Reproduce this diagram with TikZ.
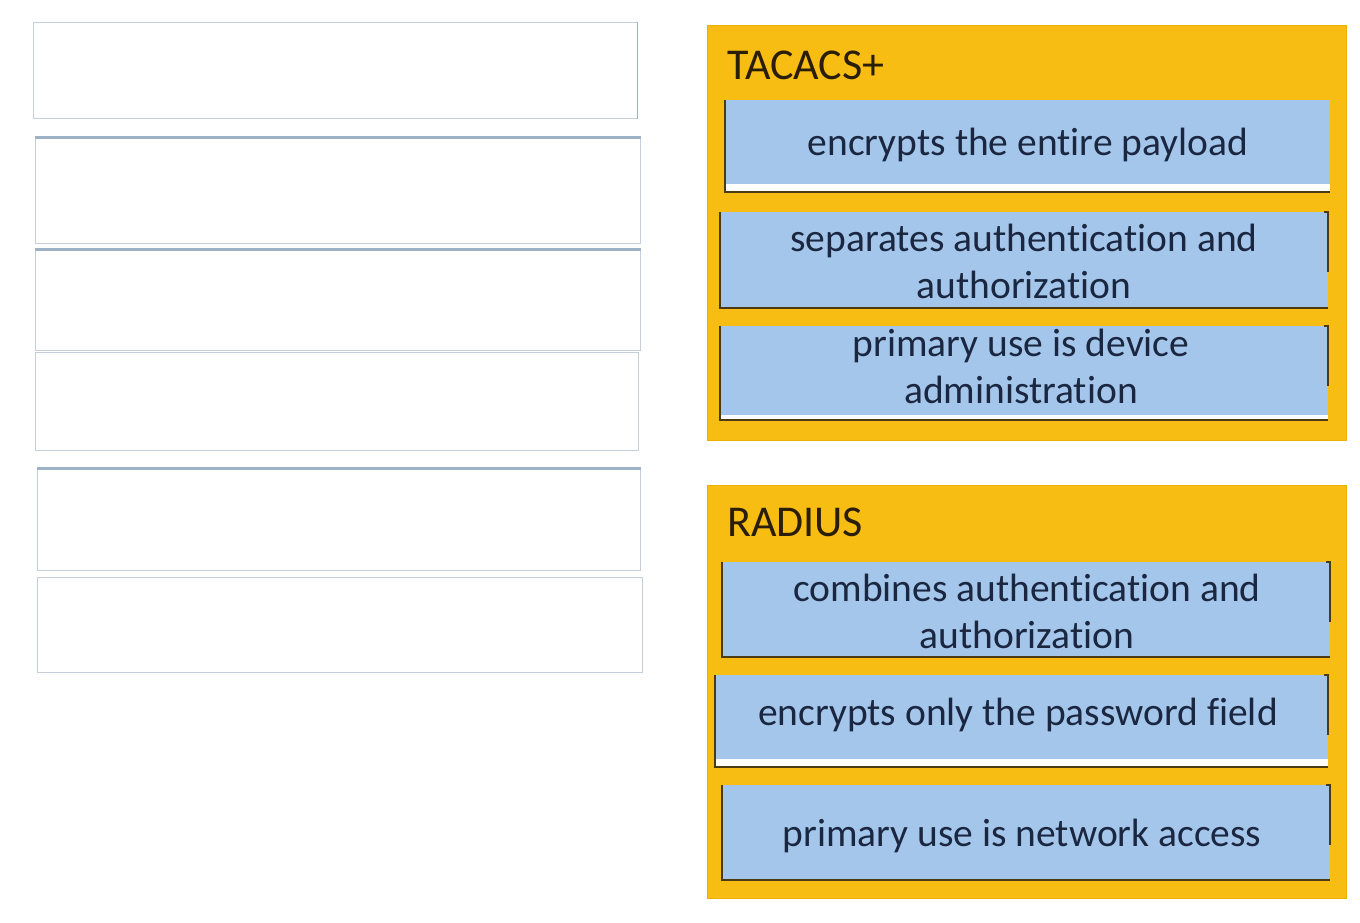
\documentclass[tikz,border=0pt]{standalone}
\usepackage{fontspec}
\setmainfont[RawFeature={-liga;-clig;-calt;-dlig}]{Carlito}
\definecolor{gold}{HTML}{F8BD12}
\definecolor{goldedge}{HTML}{EDB000}
\definecolor{itemblue}{HTML}{A4C6EA}
\definecolor{ink}{HTML}{1B2740}
\definecolor{titleink}{HTML}{2A1E08}
\definecolor{edge}{HTML}{4B3A12}
\definecolor{slotline}{HTML}{C5CFDA}
\definecolor{slottop}{HTML}{9DB2C6}
\tikzset{
  slot/.style={draw=slotline, line width=1pt, fill=white, inner sep=0pt},
  slottopline/.style={draw=slottop, line width=3.5pt},
  group/.style={fill=gold, draw=goldedge, line width=1pt, inner sep=0pt},
  grouptitle/.style={text=titleink, inner sep=0pt, font=\fontsize{44}{50}\selectfont},
  item/.style={fill=itemblue, inner sep=0pt},
  itemtext/.style={inner sep=0pt, align=center, text=ink,
    font=\fontsize{39.5}{47}\selectfont},
  edgeline/.style={draw=edge, line width=2.2pt},
  strip/.style={fill=white}
}
\begin{document}
\begin{tikzpicture}[x=1pt,y=-1pt]
\fill[white] (0,0) rectangle (1360,922);
\useasboundingbox (0,0) rectangle (1360,922);

% left answer slots
\node[slot, minimum width=604pt, minimum height=96pt]  (S1) at (335,70) {};
\node[slot, minimum width=605pt, minimum height=105pt] (S2) at (337.5,190.5) {};
\node[slot, minimum width=605pt, minimum height=100pt] (S3) at (337.5,300) {};
\node[slot, minimum width=603pt, minimum height=98pt]  (S4) at (336.5,401) {};
\node[slot, minimum width=603pt, minimum height=101pt] (S5) at (338.5,519.5) {};
\node[slot, minimum width=605pt, minimum height=95pt]  (S6) at (339.5,624.5) {};
\draw[slottopline] (S2.north west) -- (S2.north east);
\draw[slottopline] (S3.north west) -- (S3.north east);
\draw[slottopline] (S5.north west) -- (S5.north east);
\draw[draw=slottop, line width=1.5pt] (S1.north east) -- (S1.south east);

% groups
\node[group, minimum width=639pt, minimum height=415pt] (T) at (1026.5,232.5) {};
\node[group, minimum width=639pt, minimum height=413pt] (R) at (1026.5,691.5) {};
\node[grouptitle, anchor=base west] (Tt) at (727,79) {TACACS+};
\node[grouptitle, anchor=base west] (Rt) at (727,536) {RADIUS};

% TACACS+ items
\node[item, minimum width=605pt, minimum height=92pt] (T1) at (1027.5,146) {};
\node[item, minimum width=608pt, minimum height=96pt] (T2) at (1024,260) {};
\node[item, minimum width=608pt, minimum height=94pt] (T3) at (1024,373) {};

% RADIUS items
\node[item, minimum width=608pt, minimum height=95pt] (R1) at (1026,609.5) {};
\node[item, minimum width=613pt, minimum height=92pt] (R2) at (1021.5,721) {};
\node[item, minimum width=608pt, minimum height=95pt] (R3) at (1026,832.5) {};

% white strips at bottoms
\fill[strip] ([yshift=8pt]T1.south west) rectangle (T1.south east);
\fill[strip] ([yshift=5pt]T3.south west) rectangle (T3.south east);
\fill[strip] ([yshift=8pt]R2.south west) rectangle (R2.south east);

% dark edges
\foreach \n in {T1,T2,T3,R1,R2,R3}{
  \draw[edgeline] (\n.north west) -- (\n.south west) -- (\n.south east);
}
\foreach \n in {T2,T3,R1,R2,R3}{
  \draw[edgeline] ([xshift=-4pt]\n.north east) -- (\n.north east) -- ([yshift=-60pt]\n.north east);
}

% texts
\node[itemtext] (T1t) at (1028,145) {encrypts the entire payload};
\node[itemtext] (T2t) at (1024,261) {separates authentication and\\authorization};
\node[itemtext] (T3t) at (1021,366) {primary use is device\\administration};
\node[itemtext] (R1t) at (1027,611) {combines authentication and\\authorization};
\node[itemtext] (R2t) at (1018,715) {encrypts only the password field};
\node[itemtext] (R3t) at (1022,835.5) {primary use is network access};
\end{tikzpicture}
\end{document}
